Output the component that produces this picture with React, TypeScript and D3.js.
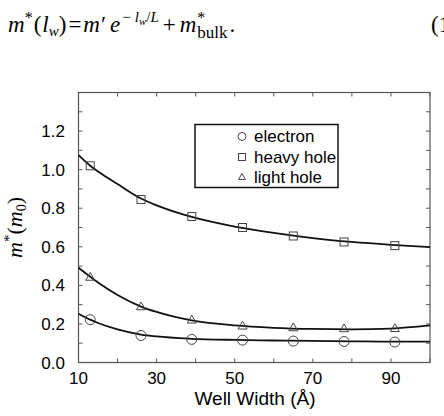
import * as d3 from "d3";

const WIDTH = 444;
const HEIGHT = 416;
const PLOT = { left: 78.5, right: 430, top: 92.5, bottom: 362.5 };

// measured well widths (Å)
const wellWidths = [13, 26, 39, 52, 65, 78, 91];
const electron = [0.222, 0.14, 0.12, 0.116, 0.111, 0.109, 0.106];
const heavyHole = [1.02, 0.845, 0.757, 0.7, 0.656, 0.625, 0.606];
const lightHole = [0.44, 0.287, 0.218, 0.187, 0.178, 0.173, 0.174];

// fitted curves
const fitX = [10, 13, 15, 20, 26, 30, 39, 50, 60, 70, 80, 90, 100];
const fitElectron = [0.253, 0.222, 0.205, 0.172, 0.145, 0.135, 0.123, 0.117, 0.114, 0.112, 0.11, 0.108, 0.108];
const fitHeavy = [1.075, 1.02, 0.99, 0.925, 0.85, 0.815, 0.755, 0.705, 0.672, 0.645, 0.625, 0.61, 0.598];
const fitLight = [0.492, 0.445, 0.415, 0.35, 0.29, 0.262, 0.218, 0.192, 0.18, 0.174, 0.172, 0.176, 0.192];

const xTickLabels = [10, 30, 50, 70, 90];
const yTickLabels = [0, 0.2, 0.4, 0.6, 0.8, 1.0, 1.2];
const legendNames = ["electron", "heavy hole", "light hole"];

const SANS = "'Liberation Sans', Arial, sans-serif";
const SERIF = "'Liberation Serif', 'Times New Roman', serif";

type Shape = "circle" | "square" | "triangle";

function Marker({ x, y, shape, size }: { x: number; y: number; shape: Shape; size: number }) {
  const st = { fill: "none", stroke: "#444", strokeWidth: 1 };
  if (shape === "circle") return <circle cx={x} cy={y} r={size / 2} {...st} />;
  if (shape === "square")
    return <rect x={x - size / 2} y={y - size / 2} width={size} height={size} {...st} />;
  const h = (size * Math.sqrt(3)) / 2;
  const pts = `${x},${y - (2 * h) / 3} ${x - size / 2},${y + h / 3} ${x + size / 2},${y + h / 3}`;
  return <polygon points={pts} {...st} />;
}

export default function App() {
  const x = d3.scaleLinear().domain([10, 100]).range([PLOT.left, PLOT.right]);
  const y = d3.scaleLinear().domain([0, 1.4]).range([PLOT.bottom, PLOT.top]);

  const line = d3
    .line<number>()
    .x((_, i) => x(fitX[i]))
    .y((d) => y(d))
    .curve(d3.curveMonotoneX);

  const series: { vals: number[]; fit: number[]; shape: Shape; size: number }[] = [
    { vals: electron, fit: fitElectron, shape: "circle", size: 10 },
    { vals: heavyHole, fit: fitHeavy, shape: "square", size: 8 },
    { vals: lightHole, fit: fitLight, shape: "triangle", size: 9 },
  ];

  const xMinor = d3.range(10, 100.1, 10);
  const yMinor = d3.range(0, 1.41, 0.1);
  const tick = 4;

  return (
    <svg
      width={WIDTH}
      height={HEIGHT}
      style={{ position: "absolute", left: 0, top: 0, background: "#fff" }}
    >
      {/* equation */}
      <text x={8} y={32} fontFamily={SERIF} fontSize={23} fill="#000">
        <tspan fontStyle="italic">m</tspan>
        <tspan dy={-9} fontSize={16}>*</tspan>
        <tspan dy={9} dx={1}>(</tspan>
        <tspan fontStyle="italic" dx={1}>l</tspan>
        <tspan dy={4} fontSize={15} fontStyle="italic">w</tspan>
        <tspan dy={-4}>)</tspan>
        <tspan dx={2}>=</tspan>
        <tspan fontStyle="italic" dx={2}>m</tspan>
        <tspan dx={1}>′</tspan>
        <tspan fontStyle="italic" dx={4}>e</tspan>
        <tspan dy={-10} fontSize={15} dx={2}>−</tspan>
        <tspan fontSize={15} fontStyle="italic" dx={4}>l</tspan>
        <tspan dy={3} fontSize={11} fontStyle="italic">w</tspan>
        <tspan dy={-3} fontSize={15}>/</tspan>
        <tspan fontSize={15} fontStyle="italic">L</tspan>
        <tspan dy={10} dx={4}>+</tspan>
        <tspan fontStyle="italic" dx={4}>m</tspan>
        <tspan dy={-9} dx={1} fontSize={16}>*</tspan>
        <tspan dy={15} dx={-8} fontSize={17}>bulk</tspan>
        <tspan dy={-6} dx={2}>.</tspan>
      </text>
      <text x={431} y={32} fontFamily={SERIF} fontSize={23}>(1)</text>

      {/* frame */}
      <rect
        x={PLOT.left}
        y={PLOT.top}
        width={PLOT.right - PLOT.left}
        height={PLOT.bottom - PLOT.top}
        fill="none"
        stroke="#555"
        strokeWidth={1.2}
      />
      {xMinor.map((v) => (
        <g key={`xt${v}`} stroke="#555" strokeWidth={1}>
          <line x1={x(v)} x2={x(v)} y1={PLOT.bottom} y2={PLOT.bottom - tick} />
          <line x1={x(v)} x2={x(v)} y1={PLOT.top} y2={PLOT.top + tick} />
        </g>
      ))}
      {yMinor.map((v) => (
        <g key={`yt${v}`} stroke="#555" strokeWidth={1}>
          <line x1={PLOT.left} x2={PLOT.left + tick} y1={y(v)} y2={y(v)} />
          <line x1={PLOT.right} x2={PLOT.right - tick} y1={y(v)} y2={y(v)} />
        </g>
      ))}

      {xTickLabels.map((v) => (
        <text
          key={`xl${v}`}
          x={x(v)}
          y={383.5}
          textAnchor="middle"
          fontFamily={SANS}
          fontSize={17}
        >
          {v}
        </text>
      ))}
      {yTickLabels.map((v) => (
        <text
          key={`yl${v}`}
          x={65}
          y={y(v) + 6}
          textAnchor="end"
          fontFamily={SANS}
          fontSize={17}
        >
          {v.toFixed(1)}
        </text>
      ))}

      <text x={255} y={405} textAnchor="middle" fontFamily={SANS} fontSize={19}>
        Well Width (Å)
      </text>

      <text
        transform={`translate(22,${(PLOT.top + PLOT.bottom) / 2}) rotate(-90)`}
        textAnchor="middle"
        fontFamily={SERIF}
        fontSize={22}
      >
        <tspan fontStyle="italic">m</tspan>
        <tspan dy={-8} fontSize={15}>*</tspan>
        <tspan dy={8}>(</tspan>
        <tspan fontStyle="italic">m</tspan>
        <tspan dy={4} fontSize={14}>0</tspan>
        <tspan dy={-4}>)</tspan>
      </text>

      {/* curves and markers */}
      {series.map((s, si) => (
        <g key={`s${si}`}>
          <path d={line(s.fit) ?? ""} fill="none" stroke="#111" strokeWidth={1.8} />
          {s.vals.map((v, i) => (
            <Marker key={i} x={x(wellWidths[i])} y={y(v)} shape={s.shape} size={s.size} />
          ))}
        </g>
      ))}

      {/* legend */}
      <rect x={195} y={124.5} width={143} height={63} fill="#fff" stroke="#111" strokeWidth={1.5} />
      {legendNames.map((name, i) => (
        <g key={name}>
          <Marker
            x={242}
            y={136.5 + i * 20.5}
            shape={series[i].shape}
            size={series[i].shape === "circle" ? 8 : 7}
          />
          <text x={254} y={142 + i * 20.5} fontFamily={SANS} fontSize={17}>
            {name}
          </text>
        </g>
      ))}
    </svg>
  );
}
